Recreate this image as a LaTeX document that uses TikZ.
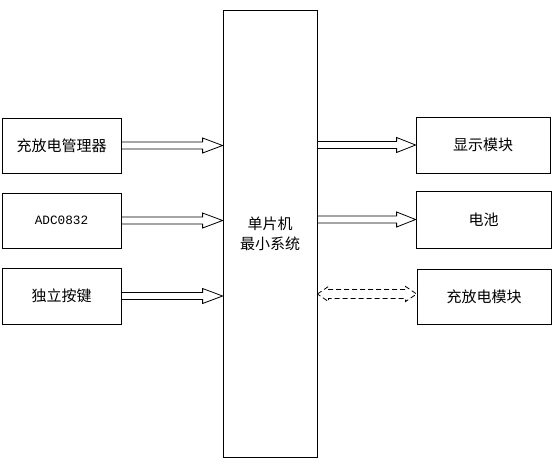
\documentclass[tikz,border=0pt]{standalone}
\usepackage{fontspec}
\setmainfont{Noto Sans CJK SC}
\newfontfamily\latinmono{Liberation Mono}
\usetikzlibrary{calc}
\tikzset{
  box/.style={draw=black, line width=0.8pt, inner sep=0pt, font=\fontsize{15}{20}\selectfont},
  blk/.style={draw=black, line width=0.8pt},
  dblk/.style={draw=black, line width=0.8pt, dash pattern=on 5pt off 3pt},
}
\begin{document}
\begin{tikzpicture}[x=1pt,y=-1pt]
\useasboundingbox (0,0) rectangle (554,464);
% left modules
\node[box, minimum width=119pt, minimum height=55pt] (m1) at (61.5,145.5) {充放电管理器};
\node[box, minimum width=119pt, minimum height=55pt] (m2) at (61.5,220.5) {\latinmono\fontsize{12.7}{15}\selectfont ADC0832};
\node[box, minimum width=119pt, minimum height=56pt] (m3) at (61.5,296) {独立按键};
% central MCU
\node[box, minimum width=94pt, minimum height=447pt, align=center] (cpu) at (270,233.5) {单片机\\最小系统};
% right modules
\node[box, minimum width=134pt, minimum height=56pt] (r1) at (483,145) {显示模块};
\node[box, minimum width=135pt, minimum height=57pt] (r2) at (483.5,219.5) {电池};
\node[box, minimum width=134pt, minimum height=55pt] (r3) at (484,296.5) {充放电模块};
% hollow block arrows (left -> cpu)
\foreach \s in {m1,m2,m3}{
  \draw[blk] ($(\s.east)+(0,-3.5)$) -- ($(cpu.west |- \s.east)+(-20,-3.5)$)
    -- ($(cpu.west |- \s.east)+(-20,-7.5)$) -- (cpu.west |- \s.east)
    -- ($(cpu.west |- \s.east)+(-20,7.5)$) -- ($(cpu.west |- \s.east)+(-20,3.5)$)
    -- ($(\s.east)+(0,3.5)$);
}
% hollow block arrows (cpu -> right)
\foreach \t in {r1,r2}{
  \draw[blk] ($(cpu.east |- \t.west)+(0,-3.5)$) -- ($(\t.west)+(-19,-3.5)$)
    -- ($(\t.west)+(-19,-7.5)$) -- (\t.west)
    -- ($(\t.west)+(-19,7.5)$) -- ($(\t.west)+(-19,3.5)$)
    -- ($(cpu.east |- \t.west)+(0,3.5)$);
}
% dashed double block arrow (cpu <-> r3)
\coordinate (dl) at ($(cpu.east |- r3.west)+(0,-2.5)$);
\coordinate (dr) at ($(r3.west)+(0,-2.5)$);
\draw[dblk] (dl) -- ($(dl)+(11,-7.5)$) -- ($(dl)+(11,-4.5)$) -- ($(dr)+(-11,-4.5)$)
  -- ($(dr)+(-11,-7.5)$) -- (dr) -- ($(dr)+(-11,7.5)$) -- ($(dr)+(-11,4.5)$)
  -- ($(dl)+(11,4.5)$) -- ($(dl)+(11,7.5)$) -- cycle;
\end{tikzpicture}
\end{document}
